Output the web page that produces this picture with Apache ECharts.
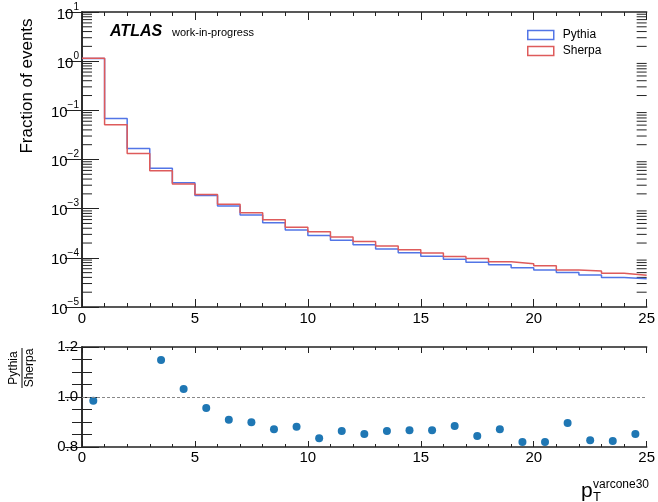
<!DOCTYPE html>
<html>
<head>
<meta charset="utf-8">
<script src="https://cdn.jsdelivr.net/npm/echarts@6/dist/echarts.min.js"></script>
<style>
  html, body { margin: 0; padding: 0; background: #fff; }
  #chart { width: 658px; height: 502px; }
</style>
</head>
<body>
<div id="chart"></div>
<script>
// bin edges 0..25, width 1
const binEdges = [0, 1, 2, 3, 4, 5, 6, 7, 8, 9, 10, 11, 12, 13, 14, 15, 16, 17, 18, 19, 20, 21, 22, 23, 24, 25];
const pythia = [1.13, 0.068, 0.0168, 0.0066, 0.00336, 0.00186, 0.00113, 0.00074, 0.00052, 0.000367,
  0.000283, 0.000228, 0.000184, 0.000151, 0.000127, 0.000108, 0.0000935, 0.0000815, 0.0000725, 0.0000625,
  0.0000565, 0.0000505, 0.0000448, 0.000040, 0.0000375];
const sherpa = [1.15, 0.0507, 0.0133, 0.0059, 0.00318, 0.00194, 0.00123, 0.00083, 0.000597, 0.000417,
  0.00034, 0.000265, 0.000215, 0.000175, 0.000146, 0.000125, 0.000106, 0.0000965, 0.0000832, 0.0000762,
  0.0000688, 0.0000563, 0.0000542, 0.0000485, 0.0000442];
// ratio points at bin centres (two bins are above the plotted range)
const ratio = [0.985, 1.34, 1.27, 1.148, 1.032, 0.956, 0.909, 0.899, 0.871, 0.881,
  0.835, 0.864, 0.852, 0.864, 0.867, 0.867, 0.884, 0.844, 0.871, 0.820,
  0.820, 0.896, 0.827, 0.824, 0.852];
const logDecades = [1e-5, 1e-4, 1e-3, 1e-2, 1e-1, 1e0];
const logMinorSteps = [2, 3, 4, 5, 6, 7, 8, 9];

const FONT = "Liberation Sans";
const BLUE = "#5275e6";
const RED = "#de5b5b";
const AXIS = "#222";

const stepData = (vals) => {
  const d = vals.map((v, i) => [binEdges[i], v]);
  d.push([binEdges[binEdges.length - 1], vals[vals.length - 1]]);
  return d;
};
const ratioData = ratio.map((v, i) => [binEdges[i] + 0.5, v]);
const minorLogTicks = [];
logDecades.forEach((d) => logMinorSteps.forEach((m) => minorLogTicks.push([0, d * m])));

const logLabel = (value) => {
  const e = Math.round(Math.log10(value));
  const s = String(e).replace("-", "\u2212");
  return "{b|10}{s|" + s + "}";
};

const xBase = {
  type: "value", min: 0, max: 25, interval: 5,
  axisLine: { show: true, onZero: false, lineStyle: { color: AXIS, width: 1.5 } },
  splitLine: { show: false },
};
const chart = echarts.init(document.getElementById("chart"));
const option = {
  animation: false,
  grid: [
    { left: 82, right: 8, top: 12, height: 295 },
    { left: 82, right: 8, top: 347, height: 100 },
  ],
  xAxis: [
    Object.assign({}, xBase, {
      gridIndex: 0, position: "bottom",
      axisTick: { inside: true, length: 8, lineStyle: { color: AXIS } },
      minorTick: { show: true, splitNumber: 5, length: 4, lineStyle: { color: AXIS } },
      axisLabel: { fontFamily: FONT, fontSize: 15, color: "#000", margin: 4 },
    }),
    Object.assign({}, xBase, {
      gridIndex: 0, position: "top",
      axisTick: { inside: true, length: 8, lineStyle: { color: AXIS } },
      minorTick: { show: true, splitNumber: 5, length: 4, lineStyle: { color: AXIS } },
      axisLabel: { show: false },
    }),
    Object.assign({}, xBase, {
      gridIndex: 1, position: "bottom",
      axisTick: { inside: true, length: 6, lineStyle: { color: AXIS } },
      minorTick: { show: true, splitNumber: 5, length: 3, lineStyle: { color: AXIS } },
      axisLabel: { fontFamily: FONT, fontSize: 15, color: "#000", margin: 3 },
    }),
    Object.assign({}, xBase, {
      gridIndex: 1, position: "top",
      axisTick: { inside: true, length: 6, lineStyle: { color: AXIS } },
      minorTick: { show: true, splitNumber: 5, length: 3, lineStyle: { color: AXIS } },
      axisLabel: { show: false },
    }),
  ],
  yAxis: [
    {
      type: "log", logBase: 10, min: 1e-5, max: 10, gridIndex: 0, position: "left", splitNumber: 6,
      axisLine: { show: true, lineStyle: { color: AXIS, width: 1.5 } },
      axisTick: { inside: true, length: 17, lineStyle: { color: AXIS } },
      splitLine: { show: false },
      axisLabel: {
        formatter: logLabel, margin: 3, color: "#000",
        rich: {
          b: { fontFamily: FONT, fontSize: 15, lineHeight: 20, verticalAlign: "bottom", color: "#000" },
          s: { fontFamily: FONT, fontSize: 10, lineHeight: 20, verticalAlign: "top", color: "#000" },
        },
      },
    },
    {
      type: "log", logBase: 10, min: 1e-5, max: 10, gridIndex: 0, position: "right", splitNumber: 6,
      axisLine: { show: true, lineStyle: { color: AXIS, width: 1.5 } },
      axisTick: { inside: true, length: 17, lineStyle: { color: AXIS } },
      splitLine: { show: false },
      axisLabel: { show: false },
    },
    {
      type: "value", min: 0.8, max: 1.2, interval: 0.2, gridIndex: 1, position: "left",
      axisLine: { show: true, lineStyle: { color: AXIS, width: 1.5 } },
      axisTick: { inside: true, length: 17, lineStyle: { color: AXIS } },
      minorTick: { show: true, splitNumber: 4, length: 10, lineStyle: { color: AXIS } },
      splitLine: { show: false },
      axisLabel: { fontFamily: FONT, fontSize: 15, color: "#000", margin: 4, formatter: (v) => v.toFixed(1) },
    },
    {
      type: "value", min: 0.8, max: 1.2, interval: 0.2, gridIndex: 1, position: "right",
      axisLine: { show: true, lineStyle: { color: AXIS, width: 1.5 } },
      axisTick: { inside: true, length: 17, lineStyle: { color: AXIS } },
      minorTick: { show: true, splitNumber: 4, length: 10, lineStyle: { color: AXIS } },
      splitLine: { show: false },
      axisLabel: { show: false },
    },
  ],
  legend: {
    orient: "vertical", left: 527, top: 29, padding: 0, itemWidth: 26, itemHeight: 9, itemGap: 4,
    textStyle: { fontFamily: FONT, fontSize: 12, color: "#000", padding: [0, 0, 0, 4] },
    data: [
      { name: "Pythia", icon: "rect", itemStyle: { color: "#fff", borderColor: BLUE, borderWidth: 1.5 } },
      { name: "Sherpa", icon: "rect", itemStyle: { color: "#fff", borderColor: RED, borderWidth: 1.5 } },
    ],
  },
  series: [
    {
      name: "Pythia", type: "line", step: "end", xAxisIndex: 0, yAxisIndex: 0,
      data: stepData(pythia), symbol: "none",
      lineStyle: { color: BLUE, width: 1.5 }, itemStyle: { color: BLUE },
    },
    {
      name: "Sherpa", type: "line", step: "end", xAxisIndex: 0, yAxisIndex: 0,
      data: stepData(sherpa), symbol: "none",
      lineStyle: { color: RED, width: 1.5 }, itemStyle: { color: RED },
    },
    {
      name: "logMinor", type: "custom", xAxisIndex: 0, yAxisIndex: 0, silent: true,
      data: minorLogTicks,
      renderItem: (params, api) => {
        const v = api.value(1);
        const l = api.coord([0, v]);
        const r = api.coord([25, v]);
        return {
          type: "group",
          children: [
            { type: "line", shape: { x1: l[0], y1: l[1], x2: l[0] + 10, y2: l[1] }, style: { stroke: AXIS, lineWidth: 1 } },
            { type: "line", shape: { x1: r[0], y1: r[1], x2: r[0] - 10, y2: r[1] }, style: { stroke: AXIS, lineWidth: 1 } },
          ],
        };
      },
    },
    {
      name: "ratio", type: "scatter", xAxisIndex: 2, yAxisIndex: 2, clip: true,
      data: ratioData, symbolSize: 8, itemStyle: { color: "#1f77b4", opacity: 1 },
      markLine: {
        silent: true, symbol: ["none", "none"], label: { show: false },
        lineStyle: { color: "#888", type: [3, 2], width: 1 },
        data: [{ yAxis: 1 }],
      },
    },
  ],
  graphic: [
    {
      type: "text", x: 27, y: 86, rotation: Math.PI / 2,
      style: { text: "Fraction of events", fontFamily: FONT, fontSize: 17, fill: "#000", align: "center", verticalAlign: "middle" },
    },
    {
      type: "text", x: 110, y: 32,
      style: { text: "ATLAS", fontFamily: FONT, fontSize: 16, fontWeight: "bold", fontStyle: "italic", fill: "#000", verticalAlign: "middle" },
    },
    {
      type: "text", x: 172, y: 33,
      style: { text: "work-in-progress", fontFamily: FONT, fontSize: 11, fill: "#000", verticalAlign: "middle" },
    },
    {
      type: "group", x: 22, y: 368, rotation: Math.PI / 2,
      children: [
        { type: "text", x: 0, y: -2, style: { text: "Pythia", fontFamily: FONT, fontSize: 12, fill: "#000", align: "center", verticalAlign: "bottom" } },
        { type: "line", shape: { x1: -20, y1: 0, x2: 20, y2: 0 }, style: { stroke: "#000", lineWidth: 1 } },
        { type: "text", x: 0, y: 2, style: { text: "Sherpa", fontFamily: FONT, fontSize: 12, fill: "#000", align: "center", verticalAlign: "top" } },
      ],
    },
    {
      type: "text", x: 581, y: 491,
      style: { text: "p", fontFamily: FONT, fontSize: 21, fill: "#000", verticalAlign: "middle" },
    },
    {
      type: "text", x: 593, y: 491,
      style: { text: "varcone30", fontFamily: FONT, fontSize: 12, fill: "#000", verticalAlign: "bottom" },
    },
    {
      type: "text", x: 593, y: 497,
      style: { text: "T", fontFamily: FONT, fontSize: 13, fill: "#000", verticalAlign: "middle" },
    },
  ],
};
chart.setOption(option);
</script>
</body>
</html>
